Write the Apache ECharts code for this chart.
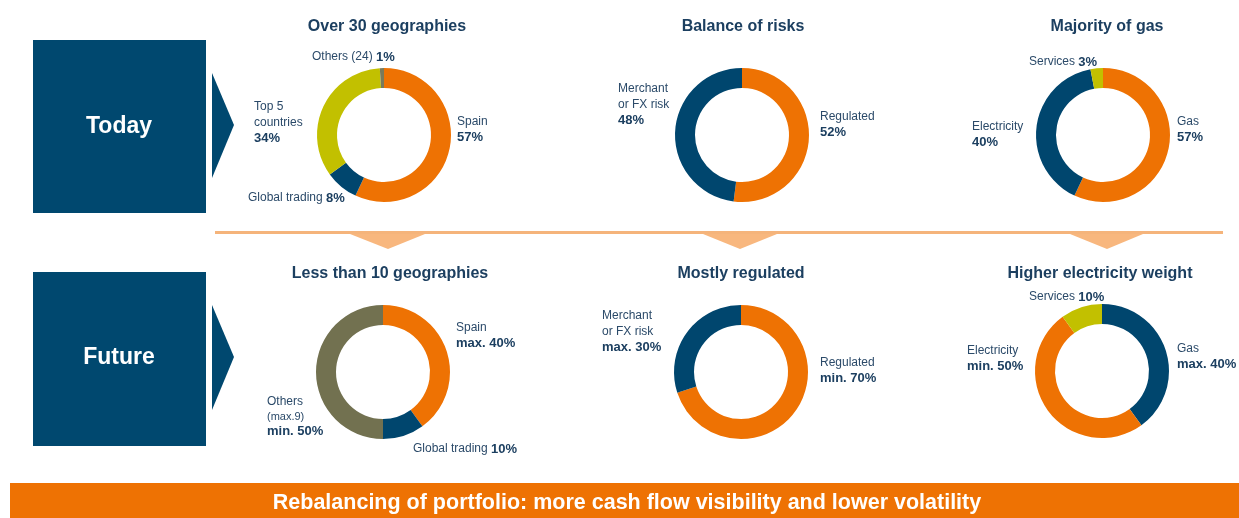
<!DOCTYPE html>
<html>
<head>
<meta charset="utf-8">
<script src="https://cdn.jsdelivr.net/npm/echarts@6/dist/echarts.min.js"></script>
<style>
  html, body { margin: 0; padding: 0; background: #fff; }
  #chart { width: 1239px; height: 518px; }
</style>
</head>
<body>
<div id="chart"></div>
<script>
// data, one small set per donut
const todayGeoNames = ["Spain", "Global trading", "Top 5\ncountries", "Others (24)"];
const todayGeoValues = [57, 8, 34, 1];
const todayRiskNames = ["Regulated", "Merchant\nor FX risk"];
const todayRiskValues = [52, 48];
const todayFuelNames = ["Gas", "Electricity", "Services"];
const todayFuelValues = [57, 40, 3];

const futureGeoNames = ["Spain", "Global trading", "Others\n(max.9)"];
const futureGeoValues = [40, 10, 50];
const futureGeoPrefix = ["max. ", "", "min. "];
const futureRiskNames = ["Regulated", "Merchant\nor FX risk"];
const futureRiskValues = [70, 30];
const futureRiskPrefix = ["min. ", "max. "];
const futureFuelNames = ["Gas", "Electricity", "Services"];
const futureFuelValues = [40, 50, 10];
const futureFuelPrefix = ["max. ", "min. ", ""];

const titles = ["Over 30 geographies", "Balance of risks", "Majority of gas",
  "Less than 10 geographies", "Mostly regulated", "Higher electricity weight"];
const rowLabels = ["Today", "Future"];
const bannerText = "Rebalancing of portfolio: more cash flow visibility and lower volatility";

// colours
const ORANGE = "#ee7203";
const NAVY = "#00466e";
const LIME = "#c2c000";
const OLIVE = "#727150";
const GREY = "#7a7a5a";
const TXT = "#2b4a69";
const DARK = "#1c3f60";

let myChart = echarts.init(document.getElementById("chart"));

// builds label text; inline = name and % on one line
function lbl(name, value, prefix, inline) {
  let lines = name.split("\n").map(function (s) {
    if (s.charAt(0) === "(") return "{s|" + s + "}";
    return "{n|" + s + "}";
  });
  let pct = "{b|" + (prefix || "") + value + "%}";
  if (inline) return lines.join("\n") + " " + pct;
  return lines.join("\n") + "\n" + pct;
}

function donut(center, names, values, prefix, colors, inline, pos) {
  return {
    type: "pie",
    center: center,
    radius: [47, 67],
    startAngle: 90,
    silent: true,
    avoidLabelOverlap: false,
    labelLine: { show: false },
    label: {
      show: true,
      position: "outside",
      overflow: "none",
      lineHeight: 15.5,
      rich: {
        n: { fontSize: 12, color: TXT, lineHeight: 15.5, fontFamily: "Liberation Sans" },
        s: { fontSize: 11, color: TXT, lineHeight: 14, fontFamily: "Liberation Sans" },
        b: { fontSize: 13, fontWeight: "bold", color: DARK, lineHeight: 16, fontFamily: "Liberation Sans" },
      },
    },
    labelLayout: function (p) {
      let q = pos[p.dataIndex];
      return { x: q[0], y: q[1], align: "left", verticalAlign: "top" };
    },
    data: values.map(function (v, i) {
      return {
        name: names[i],
        value: v,
        itemStyle: { color: colors[i] },
        label: { formatter: lbl(names[i], v, prefix ? prefix[i] : "", inline[i]) },
      };
    }),
  };
}

let titleCenters = [[382, 14], [738, 14], [1102, 14], [385, 261], [736, 261], [1095, 261]];

let option = {
  animation: false,
  title: titles.map(function (t, i) {
    return {
      text: t,
      left: titleCenters[i][0],
      top: titleCenters[i][1],
      textAlign: "center",
      textStyle: { fontSize: 16, fontWeight: "bold", color: DARK, fontFamily: "Liberation Sans" },
    };
  }),
  graphic: [
    // row boxes
    { type: "rect", shape: { x: 33, y: 40, width: 173, height: 173 }, style: { fill: "#00486f" } },
    { type: "rect", shape: { x: 33, y: 272, width: 173, height: 174 }, style: { fill: "#00486f" } },
    { type: "polygon", shape: { points: [[212, 73], [234, 125], [212, 178]] }, style: { fill: "#00486f" } },
    { type: "polygon", shape: { points: [[212, 305], [234, 357], [212, 410]] }, style: { fill: "#00486f" } },
    {
      type: "text", x: 119, y: 127,
      style: { text: rowLabels[0], fill: "#fff", font: "bold 23px Liberation Sans", textAlign: "center", textVerticalAlign: "middle" },
    },
    {
      type: "text", x: 119, y: 358,
      style: { text: rowLabels[1], fill: "#fff", font: "bold 23px Liberation Sans", textAlign: "center", textVerticalAlign: "middle" },
    },
    // separator
    { type: "rect", shape: { x: 215, y: 231, width: 1008, height: 3 }, style: { fill: "#f5b47b" } },
    { type: "polygon", shape: { points: [[350, 234], [425, 234], [388, 249]] }, style: { fill: "#f8b77e" } },
    { type: "polygon", shape: { points: [[703, 234], [777, 234], [740, 249]] }, style: { fill: "#f8b77e" } },
    { type: "polygon", shape: { points: [[1070, 234], [1143, 234], [1107, 249]] }, style: { fill: "#f8b77e" } },
    // banner
    { type: "rect", shape: { x: 10, y: 483, width: 1229, height: 35 }, style: { fill: "#ee7203" } },
    {
      type: "text", x: 627, y: 503,
      style: { text: bannerText, fill: "#fff", font: "bold 21.5px Liberation Sans", textAlign: "center", textVerticalAlign: "middle" },
    },
  ],
  series: [
    donut([384, 135], todayGeoNames, todayGeoValues, null, [ORANGE, NAVY, LIME, GREY], [false, true, false, true],
      [[457, 114], [248, 190], [254, 99], [312, 49]]),
    donut([742, 135], todayRiskNames, todayRiskValues, null, [ORANGE, NAVY], [false, false],
      [[820, 109], [618, 81]]),
    donut([1103, 135], todayFuelNames, todayFuelValues, null, [ORANGE, NAVY, LIME], [false, false, true],
      [[1177, 114], [972, 119], [1029, 54]]),
    donut([383, 372], futureGeoNames, futureGeoValues, futureGeoPrefix, [ORANGE, NAVY, OLIVE], [false, true, false],
      [[456, 320], [413, 441], [267, 394]]),
    donut([741, 372], futureRiskNames, futureRiskValues, futureRiskPrefix, [ORANGE, NAVY], [false, false],
      [[820, 355], [602, 308]]),
    donut([1102, 371], futureFuelNames, futureFuelValues, futureFuelPrefix, [NAVY, ORANGE, LIME], [false, false, true],
      [[1177, 341], [967, 343], [1029, 289]]),
  ],
};

myChart.setOption(option);
</script>
</body>
</html>
